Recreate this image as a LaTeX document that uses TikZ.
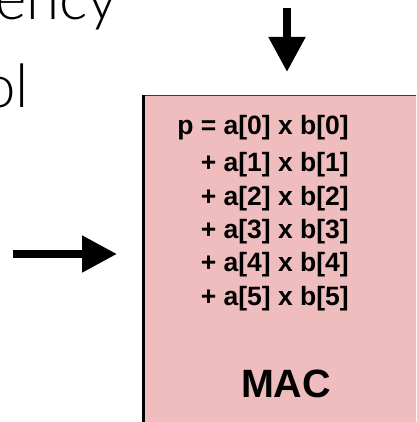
\documentclass[tikz,border=0pt]{standalone}
\usepackage{fontspec}
\setmainfont{Liberation Sans}
\newfontfamily\thinfont{Lato Light}
\usepackage{tikz}
\usetikzlibrary{arrows.meta, positioning, calc}
\definecolor{macfill}{RGB}{239, 189, 190}
\definecolor{edgegray}{RGB}{60, 60, 60}

\begin{document}
\begin{tikzpicture}[x=1pt, y=-1pt,
    unit/.style={fill=macfill, draw=edgegray, line width=1.2pt,
                 minimum width=320pt, minimum height=360pt,
                 anchor=north west, inner sep=0pt},
    terms/.style={font=\bfseries\fontsize{26.5}{33.3}\selectfont,
                  align=right, inner sep=0pt},
    title/.style={font=\bfseries\fontsize{39.5}{40}\selectfont, inner sep=0pt},
    bigword/.style={font=\thinfont\fontsize{60}{60}\selectfont, inner sep=0pt},
    feed/.style={-{Triangle[length=35pt, width=35pt]}, line width=8pt},
]
  \useasboundingbox (0,0) rectangle (416,422);
  \clip (0,0) rectangle (416,422);

  % cut-off slide words
  \node[bigword, anchor=base east] (w1) at (118,20) {ency};
  \node[bigword, anchor=base east] (w2) at (29,108) {ol};

  % the MAC unit
  \node[unit] (mac) at (143.5,95) {};
  \draw[line width=2.7pt] (mac.north west) -- (mac.south west);

  \node[terms, anchor=base east] (sum) at (349,305)
    {p = a[0] x b[0]\\[3.7pt]
     + a[1] x b[1]\\
     + a[2] x b[2]\\
     + a[3] x b[3]\\
     + a[4] x b[4]\\
     + a[5] x b[5]};
  \node[title, anchor=base] (name) at (286,397) {MAC};

  % inputs
  \coordinate (topsrc) at (287,8);
  \coordinate (topdst) at (287,72);
  \coordinate (leftsrc) at (13,254);
  \coordinate (leftdst) at (117,254);
  \draw[feed] (topsrc) -- (topdst);
  \draw[feed] (leftsrc) -- (leftdst);
\end{tikzpicture}
\end{document}
